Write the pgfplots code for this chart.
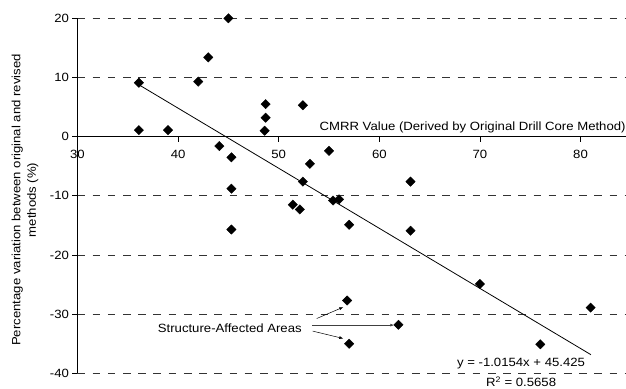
\documentclass[border=0pt]{standalone}
\usepackage{fontspec}
\setmainfont{Liberation Sans}[FakeStretch=1.1]
\usepackage{pgfplots}
\pgfplotsset{compat=1.18}
\usetikzlibrary{arrows.meta}
\begin{document}
\begin{tikzpicture}[font=\fontsize{12}{15.5}\selectfont]
\begin{axis}[
  scale only axis,
  width=548.5bp, height=355bp,
  xmin=30, xmax=84.52, ymin=-40, ymax=20,
  axis x line=middle, axis y line=left,
  axis line style={-, black, line width=0.8pt},
  hide obscured x ticks=false,
  hide obscured y ticks=false,
  xtick={30,40,50,60,70,80},
  ytick={-40,-30,-20,-10,0,10,20},
  tick align=outside,
  major tick length=5bp,
  tick style={black, line width=0.6pt},
  /pgf/number format/assume math mode=true,
  xticklabel style={yshift=-5bp},
  ymajorgrids,
  grid style={black!80, dash pattern=on 7.6bp off 7.6bp, line width=0.6pt},
  clip=false,
]
\addplot[only marks, mark=square*, mark size=3.3bp, mark options={rotate=45, fill=black, draw=black}] coordinates {
(36.1, 9.1) (36.1, 1.1) (39.0, 1.1) (42.0, 9.3) (43.0, 13.4) (45.0, 20.0)
(44.1, -1.6) (45.3, -3.5) (45.3, -8.8) (48.7, 5.5) (48.7, 3.2) (48.6, 1.0)
(52.4, 5.3) (53.1, -4.6) (52.4, -7.6) (55.0, -2.4) (63.1, -7.6) (55.4, -10.8)
(56.0, -10.6) (45.3, -15.7) (51.4, -11.5) (52.1, -12.3) (57.0, -14.9)
(63.1, -15.9) (70.0, -24.9) (81.0, -28.9) (56.8, -27.7) (61.9, -31.8)
(57.0, -35.0) (76.0, -35.1)
};
\addplot[black, line width=0.8pt, no marks] coordinates {(36.08, 8.789) (81.04, -36.863)};
\coordinate (BL) at (rel axis cs:0,0);
\coordinate (TR) at (rel axis cs:1,1);
\node[anchor=west, inner sep=0pt] at (axis cs:54.05,1.6) {CMRR Value (Derived by Original Drill Core Method)};
\node[anchor=east, inner sep=0pt] at (axis cs:52.3,-32.3) {Structure-Affected Areas};
\draw[-{Latex[length=4bp,width=3bp]}, black, line width=0.5pt] (axis cs:53.78,-30.74) -- (axis cs:56.42,-28.82);
\draw[-{Latex[length=4bp,width=3bp]}, black!75, line width=0.8pt] (axis cs:53.31,-31.86) -- (axis cs:61.49,-31.86);
\draw[-{Latex[length=4bp,width=3bp]}, black, line width=0.5pt] (axis cs:53.38,-32.87) -- (axis cs:56.42,-34.12);
\node[inner sep=0pt] at (axis cs:74.09,-38.28) {y = -1.0154x + 45.425};
\node[inner sep=0pt] at (axis cs:74.09,-41.45) {R\textsuperscript{2} = 0.5658};
\node[rotate=90, align=center, inner sep=0pt] at (axis cs:24.78,-10.7) {Percentage variation between original and revised\\methods (\%)};
\end{axis}
\pgfresetboundingbox
\path ([shift={(-77.5bp,-15.7bp)}]BL) rectangle ([shift={(0bp,18.3bp)}]TR);
\end{tikzpicture}
\end{document}
